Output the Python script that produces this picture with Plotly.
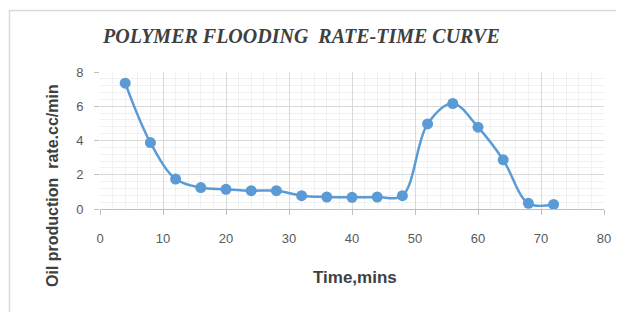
import plotly.graph_objects as go

time_mins = [4, 8, 12, 16, 20, 24, 28, 32, 36, 40, 44, 48, 52, 56, 60, 64, 68, 72]
oil_rate = [7.35, 3.88, 1.75, 1.25, 1.15, 1.07, 1.07, 0.78, 0.70, 0.68, 0.70, 0.78,
            4.97, 6.16, 4.78, 2.87, 0.33, 0.27]
x_ticks = [0, 10, 20, 30, 40, 50, 60, 70, 80]
y_ticks = [0, 2, 4, 6, 8]

BLUE = "#5B9BD5"
fig = go.Figure()
fig.add_trace(go.Scatter(
    x=time_mins, y=oil_rate, mode="lines+markers",
    line=dict(color=BLUE, width=2.5, shape="spline", smoothing=1.0),
    marker=dict(color=BLUE, size=11),
    showlegend=False, cliponaxis=False,
))

tick_font = dict(family="Liberation Sans, Arial, sans-serif", size=13, color="#595959")
fig.update_layout(
    width=624, height=312,
    margin=dict(l=92, r=28, t=64, b=111),
    paper_bgcolor="white", plot_bgcolor="white",
    xaxis=dict(
        range=[0, 80], tickvals=x_ticks, showgrid=True, gridcolor="#d9d9d9", gridwidth=1,
        minor=dict(dtick=2, showgrid=True, gridcolor="#f0f0f0", gridwidth=1),
        showline=True, linecolor="#bfbfbf", linewidth=1,
        ticks="outside", ticklen=5, tickcolor="#bfbfbf",
        tickfont=tick_font, ticklabelstandoff=12, zeroline=False,
    ),
    yaxis=dict(
        range=[0, 8], tickvals=y_ticks, showgrid=True, gridcolor="#d9d9d9", gridwidth=1,
        minor=dict(dtick=0.4, showgrid=True, gridcolor="#f0f0f0", gridwidth=1),
        showline=False,
        ticks="outside", ticklen=5, tickcolor="#bfbfbf",
        tickfont=tick_font, ticklabelstandoff=8, zeroline=False,
    ),
    shapes=[dict(type="rect", xref="paper", yref="paper",
                 x0=(9.5 - 100) / 504, x1=1.2, y0=-1.0, y1=(209 - 10.5) / 137,
                 line=dict(color="#d9d9d9", width=1.5), layer="below")],
    annotations=[
        dict(text="<b><i>POLYMER FLOODING  RATE-TIME CURVE</i></b>", xref="paper", yref="paper",
             x=(301 - 100) / 504, y=(209 - 36) / 137, xanchor="center", yanchor="middle",
             showarrow=False, font=dict(family="Liberation Serif, Times New Roman, serif", size=20, color="#404040")),
        dict(text="<b>Time,mins</b>", xref="paper", yref="paper",
             x=(355 - 100) / 504, y=(209 - 277) / 137, xanchor="center", yanchor="middle",
             showarrow=False, font=dict(family="Liberation Sans, Arial, sans-serif", size=17, color="#404040")),
        dict(text="<b>Oil production  rate.cc/min</b>", xref="paper", yref="paper",
             x=(52 - 100) / 504, y=(209 - 186) / 137, xanchor="center", yanchor="middle",
             textangle=-90, showarrow=False,
             font=dict(family="Liberation Sans, Arial, sans-serif", size=16, color="#404040")),
    ],
)
fig.write_html("out.html")
